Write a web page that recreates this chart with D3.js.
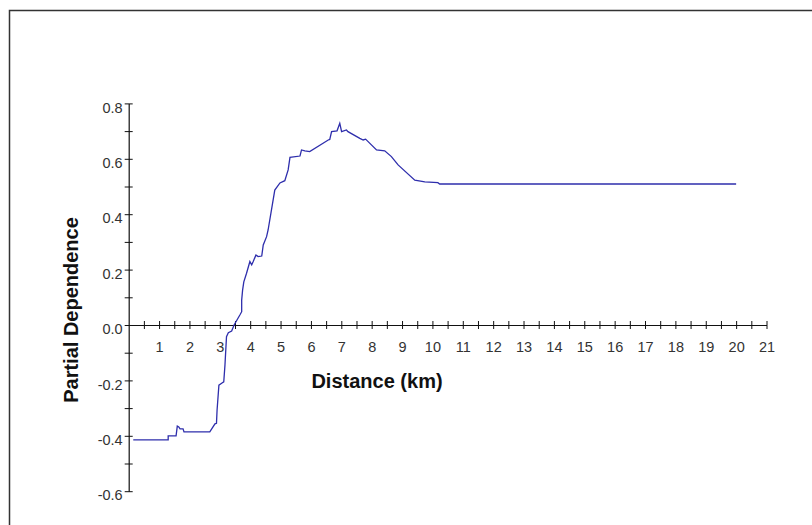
<!DOCTYPE html>
<html>
<head>
<meta charset="utf-8">
<script src="https://cdn.jsdelivr.net/npm/d3@7"></script>
<style>
  body { margin: 0; background: #fff; }
  svg { display: block; font-family: Arial, "Liberation Sans", sans-serif; }
</style>
</head>
<body>
<script>
// values
var distKm = [0.15, 1.3, 1.3, 1.56, 1.6, 1.65, 1.69, 1.79, 1.82, 2.67, 2.84, 2.89, 2.91, 2.97, 3.06, 3.13,
  3.17, 3.22, 3.28, 3.39, 3.47, 3.66, 3.72, 3.72, 3.75, 3.79, 3.88, 3.99, 4.05, 4.1, 4.19, 4.26, 4.38,
  4.43, 4.54, 4.59, 4.81, 4.98, 5.14, 5.25, 5.31, 5.64, 5.69, 5.8, 5.96, 6.57, 6.62, 6.68, 6.86, 6.95,
  7.01, 7.17, 7.22, 7.61, 7.72, 7.8, 8.16, 8.43, 8.65, 8.87, 9.42, 9.75, 10.18, 10.24, 20];
var partialDep = [-0.415, -0.415, -0.4, -0.4, -0.365, -0.368, -0.375, -0.375, -0.386, -0.386, -0.357,
  -0.355, -0.307, -0.217, -0.21, -0.205, -0.144, -0.042, -0.028, -0.022, 0, 0.036, 0.048, 0.09, 0.126,
  0.156, 0.187, 0.229, 0.217, 0.229, 0.253, 0.247, 0.249, 0.289, 0.319, 0.343, 0.487, 0.513, 0.521,
  0.56, 0.605, 0.61, 0.632, 0.629, 0.626, 0.668, 0.67, 0.698, 0.701, 0.728, 0.698, 0.704, 0.698,
  0.674, 0.668, 0.671, 0.632, 0.629, 0.608, 0.578, 0.523, 0.517, 0.514, 0.509, 0.509];

var xMajor = d3.range(1, 22);
var xMinor = d3.range(0.5, 21, 1);
var yMajor = [-0.6, -0.4, -0.2, 0, 0.2, 0.4, 0.6, 0.8];
var yMinor = [-0.5, -0.3, -0.1, 0.1, 0.3, 0.5, 0.7];

var width = 812, height = 525;

var svg = d3.select("body")
  .append("svg")
  .attr("width", width)
  .attr("height", height);

// frame (only top and left edges show)
svg.append("path")
  .attr("d", "M9.5," + height + "V10.5H" + width)
  .attr("fill", "none")
  .attr("stroke", "#333")
  .attr("stroke-width", 1.5);

var x = d3.scaleLinear().domain([0, 21]).range([128.7, 766.5]);
var y = d3.scaleLinear().domain([-0.6, 0.8]).range([491.2, 103.4]);

// x axis through zero, ticks cross the line
var xAxis = svg.append("g")
  .attr("transform", "translate(0," + y(0) + ")")
  .call(d3.axisBottom(x).tickValues(xMajor).tickSizeOuter(0)
    .tickFormat(function(d) { return d; }));

var xAxisMinor = svg.append("g")
  .attr("transform", "translate(0," + y(0) + ")")
  .call(d3.axisBottom(x).tickValues(xMinor).tickSizeOuter(0).tickFormat(""));
xAxisMinor.select(".domain").remove();

var yAxis = svg.append("g")
  .attr("transform", "translate(" + x(0) + ",0)")
  .call(d3.axisLeft(y).tickValues(yMajor).tickSizeOuter(0)
    .tickFormat(function(d) { return d.toFixed(1); }));

var yAxisMinor = svg.append("g")
  .attr("transform", "translate(" + x(0) + ",0)")
  .call(d3.axisLeft(y).tickValues(yMinor).tickSizeOuter(0).tickFormat(""));
yAxisMinor.select(".domain").remove();

svg.selectAll(".domain").attr("stroke", "#111").attr("stroke-width", 1.2);

[xAxis, xAxisMinor].forEach(function(g) {
  g.selectAll(".tick line").attr("y1", -4).attr("y2", 4).attr("stroke", "#111");
});
[yAxis, yAxisMinor].forEach(function(g) {
  g.selectAll(".tick line").attr("x1", -4).attr("x2", 4).attr("stroke", "#111");
});

xAxis.selectAll(".tick text")
  .attr("y", 17)
  .attr("fill", "#333")
  .style("font-size", "14.5px");

yAxis.selectAll(".tick text")
  .attr("x", -6)
  .attr("dy", "0.6em")
  .attr("fill", "#333")
  .style("font-size", "14.5px");

// axis titles
svg.append("text")
  .attr("x", 377)
  .attr("y", 388)
  .attr("text-anchor", "middle")
  .style("font-size", "20px")
  .style("font-weight", "bold")
  .attr("fill", "#111")
  .text("Distance (km)");

svg.append("text")
  .attr("transform", "translate(78,310) rotate(-90)")
  .attr("text-anchor", "middle")
  .style("font-size", "20px")
  .style("font-weight", "bold")
  .attr("fill", "#111")
  .text("Partial Dependence");

// partial dependence curve
var pts = distKm.map(function(d, i) { return [d, partialDep[i]]; });

var line = d3.line()
  .x(function(d) { return x(d[0]); })
  .y(function(d) { return y(d[1]); });

svg.append("path")
  .datum(pts)
  .attr("d", line)
  .attr("fill", "none")
  .attr("stroke", "#2e2eac")
  .attr("stroke-width", 1.3);
</script>
</body>
</html>
